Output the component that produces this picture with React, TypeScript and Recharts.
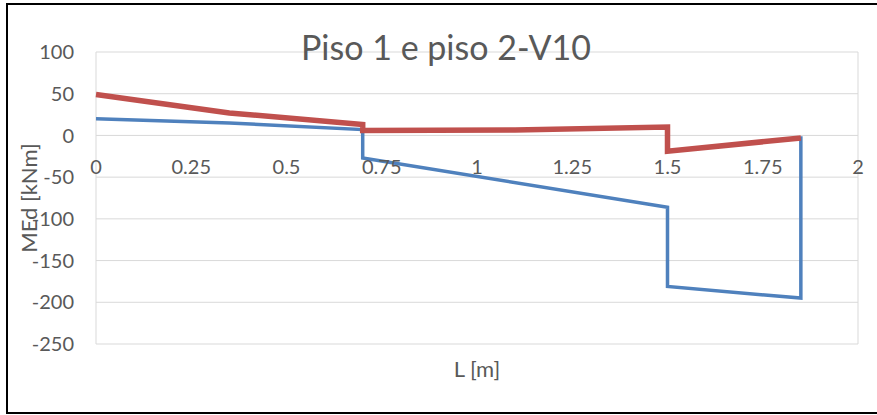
import { CartesianGrid, Line, LineChart, ReferenceDot, XAxis, YAxis } from "recharts"

// x positions along the beam [m] and bending moment MEd [kNm]
const blueX = [0, 0.35, 0.7, 0.7, 1.5, 1.5, 1.85, 1.85]
const blueM = [20, 15, 7, -27, -86, -181, -195, -1]
const redX = [0, 0.35, 0.7, 0.7, 1.1, 1.5, 1.5, 1.85]
const redM = [49, 27, 13, 6, 6.5, 10, -19, -3]

const xTicks = [0, 0.25, 0.5, 0.75, 1, 1.25, 1.5, 1.75, 2]
const yTicks = [-250, -200, -150, -100, -50, 0, 50, 100]

const blueData = blueX.map((x, i) => ({ x, m: blueM[i] }))
const redData = redX.map((x, i) => ({ x, m: redM[i] }))

const FONT = "Lato, 'Noto Sans', sans-serif"
const TEXT = "#595959"

export default function App() {
  return (
    <div style={{ position: "absolute", left: 0, top: 0, width: 877, height: 415, overflow: "hidden", background: "#fff", fontFamily: FONT }}>
      <div style={{ position: "absolute", left: 6, top: 3, width: 900, height: 407, border: "2px solid #000" }} />
      <LineChart width={877} height={415} margin={{ top: 52, right: 19, bottom: 31, left: 10 }}>
        <CartesianGrid stroke="#d9d9d9" strokeWidth={1} />
        <XAxis
          type="number"
          dataKey="x"
          domain={[0, 2]}
          ticks={xTicks}
          tick={false}
          axisLine={false}
          tickLine={false}
          height={40}
          label={{ value: "L [m]", position: "insideBottom", offset: 7, fill: TEXT, fontSize: 22, fontFamily: FONT }}
        />
        <YAxis
          type="number"
          domain={[-250, 100]}
          ticks={yTicks}
          width={86}
          axisLine={false}
          tickLine={false}
          tickMargin={16}
          tick={{ fill: TEXT, fontSize: 20, fontFamily: FONT }}
          label={{ value: "MEd [kNm]", angle: -90, position: "insideLeft", offset: 19, fill: TEXT, fontSize: 22, fontFamily: FONT, style: { textAnchor: "middle" } }}
        />
        {xTicks.map((t) => (
          <ReferenceDot
            key={t}
            x={t}
            y={0}
            r={0}
            stroke="none"
            label={{ value: String(t), position: "bottom", offset: 24, fill: TEXT, fontSize: 20, fontFamily: FONT }}
          />
        ))}
        <Line data={blueData} dataKey="m" type="linear" stroke="#4F81BD" strokeWidth={3.5} dot={false} isAnimationActive={false} />
        <Line data={redData} dataKey="m" type="linear" stroke="#C0504D" strokeWidth={5.5} dot={false} isAnimationActive={false} />
      </LineChart>
      <svg width={877} height={415} style={{ position: "absolute", left: 0, top: 0, pointerEvents: "none" }}>
        <text x={446} y={60} textAnchor="middle" fill={TEXT} fontSize={34} fontFamily={FONT}>
          Piso 1 e piso 2-V10
        </text>
      </svg>
    </div>
  )
}
